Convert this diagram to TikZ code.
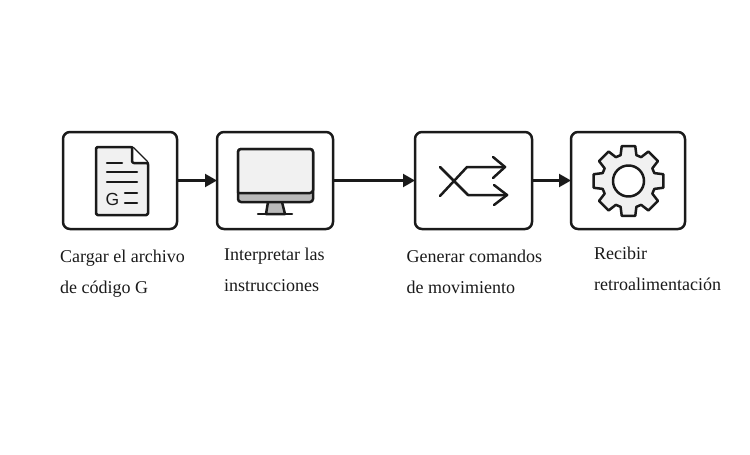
\documentclass[tikz,border=0pt]{standalone}
\usepackage{fontspec}
\setmainfont{Liberation Serif}
\newfontfamily\iconfont{Liberation Sans}
\usetikzlibrary{arrows.meta}
\definecolor{inkline}{HTML}{1A1A1A}
\definecolor{iconfill}{HTML}{F1F1F1}
\definecolor{icongrey}{HTML}{B9B9B9}
\tikzset{
    stepbox/.style={draw=inkline,line width=2.5pt,rounded corners=7pt,minimum height=97pt,outer sep=0pt,inner sep=0pt},
    flow/.style={draw=inkline,line width=2.2pt,-{Triangle[length=12pt,width=13pt]}},
    icon/.style={draw=inkline,line width=2.5pt,line join=round,line cap=round},
    steplabel/.style={anchor=north west,inner sep=0pt,align=left,text=inkline,font=\fontsize{18}{31}\selectfont},
}
\begin{document}
\begin{tikzpicture}[x=1pt,y=-1pt]
    \useasboundingbox (0,0) rectangle (750,455);
    %% boxes
    \node[stepbox,minimum width=114pt] (gcode) at (120,180.5) {};
    \node[stepbox,minimum width=116pt] (screen) at (275,180.5) {};
    \node[stepbox,minimum width=117pt] (motion) at (473.5,180.5) {};
    \node[stepbox,minimum width=114pt] (feedback) at (628,180.5) {};
    %% arrows
    \draw[flow] (gcode) -- (screen);
    \draw[flow] (screen) -- (motion);
    \draw[flow] (motion) -- (feedback);
    %% labels
    \node[steplabel] (gcodetext) at (60,250) {Cargar el archivo\\de código G};
    \node[steplabel] (screentext) at (224,248) {Interpretar las\\instrucciones};
    \node[steplabel] (motiontext) at (406.5,250) {Generar comandos\\de movimiento};
    \node[steplabel] (feedbacktext) at (594,247) {Recibir\\retroalimentación};
    %% document icon
    \draw[icon,fill=iconfill,rounded corners=1.5pt] (96,147) -- (132,147) -- (148,163) -- (148,215) -- (96,215) -- cycle;
    \draw[icon,fill=white] (132,147) -- (132,158) [rounded corners=2pt] -- (132,163) -- (148,163);
    \foreach \x/\y/\z in {107/122/163,107/137/172,107/137/182,125/137/193,125/137/203}
        \draw[icon] (\x,\z) -- (\y,\z);
    \node[text=inkline,font=\iconfont\fontsize{17.5}{17.5}\selectfont,inner sep=0pt] (gletter) at (112.5,199) {G};
    %% monitor icon
    \draw[icon,fill=icongrey] (268,202) -- (266,214) -- (285,214) -- (282,202);
    \draw[icon] (258,214) -- (292,214);
    \draw[icon,fill=icongrey,rounded corners=3pt] (238,149) rectangle (313,202);
    \draw[icon,fill=iconfill,rounded corners=3pt] (238,193) -- (238,149) -- (313,149) -- (313,193) [sharp corners] -- cycle;
    %% shuffle icon
    \draw[icon] (440,167) -- (468,195) -- (507,195);
    \draw[icon] (440,196) -- (467,167) -- (505,167);
    \draw[icon] (493,157) -- (505,167) -- (493,178);
    \draw[icon] (494,185) -- (507,195) -- (494,205);
    %% gear icon
    \begin{scope}[shift={(628.5,181)}]
        \draw[icon,fill=iconfill] (-11:35.5) \foreach \a in {0,45,...,315}
            { -- (\a-11:35.5) -- (\a+11:35.5) -- (\a+17:27) -- (\a+28:27) } -- cycle;
        \draw[icon,fill=white] (0,0) circle (15.5);
    \end{scope}
\end{tikzpicture}
\end{document}
